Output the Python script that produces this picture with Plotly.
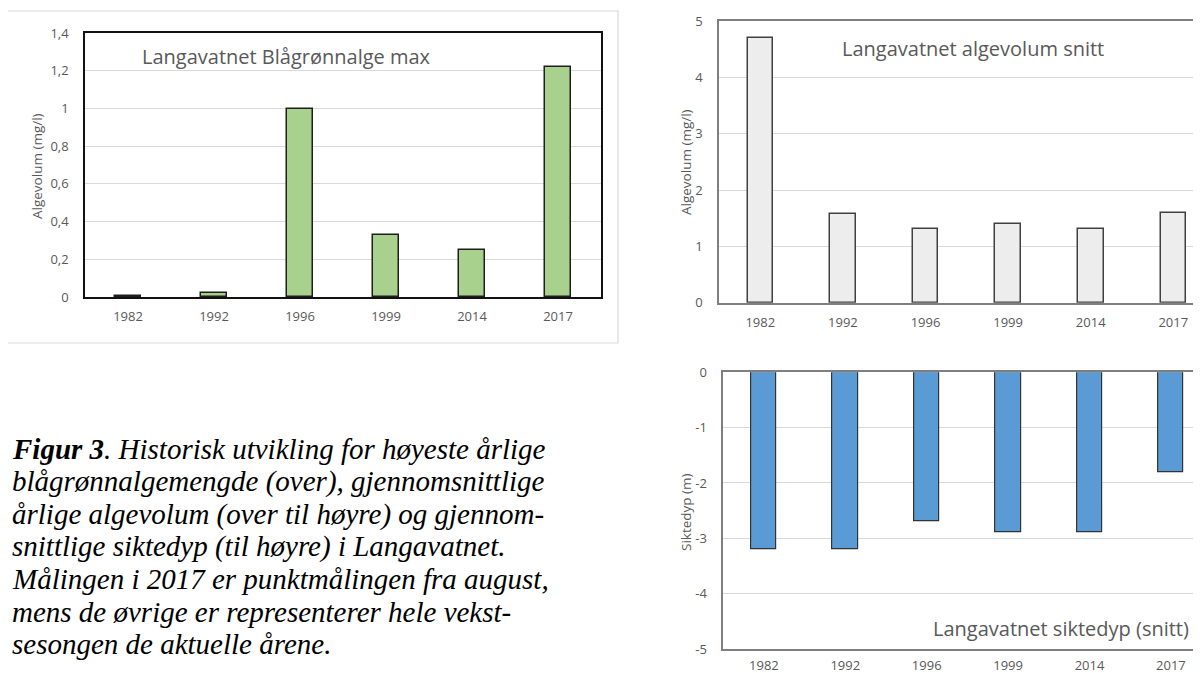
import plotly.graph_objects as go

# ---------------- data ----------------
years = ["1982", "1992", "1996", "1999", "2014", "2017"]
blagronn_max = [0.005, 0.02, 0.995, 0.33, 0.25, 1.22]
algevolum_snitt = [4.70, 1.57, 1.30, 1.40, 1.31, 1.59]
siktedyp_snitt = [-3.2, -3.2, -2.7, -2.9, -2.9, -1.8]

tl_ticks = [0, 0.2, 0.4, 0.6, 0.8, 1.0, 1.2, 1.4]
tr_ticks = [0, 1, 2, 3, 4, 5]
br_ticks = [0, -1, -2, -3, -4, -5]
br_ticktext = ["0", "-1", "-2", "-3", "-4", "-5"]

caption_lines = [
    "<b>Figur 3</b>. Historisk utvikling for høyeste årlige",
    "blågrønnalgemengde (over), gjennomsnittlige",
    "årlige algevolum (over til høyre) og gjennom-",
    "snittlige siktedyp (til høyre) i Langavatnet.",
    "Målingen i 2017 er punktmålingen fra august,",
    "mens de øvrige er representerer hele vekst-",
    "sesongen de aktuelle årene.",
]

# page body has an 8px margin: figure starts at (8, 8) of the window
OFF = 8
FW, FH = 1193, 673
def px(x):
    return (x - OFF) / FW
def py(y):
    return 1 - (y - OFF) / FH

TICK_FONT = dict(family="Open Sans", size=13, color="#595959")
GRID = "#D9D9D9"

fig = go.Figure()

fig.add_trace(go.Bar(x=years, y=blagronn_max, width=0.31,
                     marker=dict(color="#A9D18E", line=dict(color="#1E1E1E", width=1.5)),
                     xaxis="x", yaxis="y", showlegend=False))
fig.add_trace(go.Bar(x=years, y=algevolum_snitt, width=0.31,
                     marker=dict(color="#EDEDED", line=dict(color="#404040", width=1.5)),
                     xaxis="x2", yaxis="y2", showlegend=False))
fig.add_trace(go.Bar(x=years, y=siktedyp_snitt, width=0.31,
                     marker=dict(color="#5B9BD5", line=dict(color="#333333", width=1.2)),
                     xaxis="x3", yaxis="y3", showlegend=False))

# plot areas (window pixels): left, right, top, bottom
TL = (85, 601, 33, 297)
TR = (719, 1201, 21, 302.7)
BR = (723.2, 1201, 372.3, 649)

tr_right = -0.5 + (TR[1] - TR[0]) / 82.6
br_right = -0.5 + (BR[1] - BR[0]) / 81.4

common_x = dict(type="category", showgrid=False, zeroline=False, ticks="",
                tickfont=TICK_FONT, fixedrange=True)
common_y = dict(showgrid=True, gridcolor=GRID, gridwidth=1, zeroline=False, ticks="",
                tickfont=TICK_FONT, ticklabelstandoff=12, fixedrange=True)

fig.update_layout(
    width=FW, height=FH,
    margin=dict(l=0, r=0, t=0, b=0, autoexpand=False),
    paper_bgcolor="white", plot_bgcolor="white",
    separators=", ",
    bargap=0,
    xaxis=dict(**common_x, domain=[px(TL[0]), px(TL[1])], anchor="y", ticklabelstandoff=7,
               range=[-0.5, 5.5], showline=True, linecolor="#111111", linewidth=1.5, mirror=True),
    yaxis=dict(**common_y, domain=[py(TL[3]), py(TL[2])], anchor="x",
               range=[0, 1.4], tickvals=tl_ticks,
               showline=True, linecolor="#111111", linewidth=1.5, mirror=True),
    xaxis2=dict(**common_x, domain=[px(TR[0]), px(TR[1])], anchor="y2", ticklabelstandoff=7,
                range=[-0.5, tr_right], showline=True, linecolor="#7F7F7F", linewidth=1.5, mirror=True),
    yaxis2=dict(**common_y, domain=[py(TR[3]), py(TR[2])], anchor="x2",
                range=[0, 5], tickvals=tr_ticks,
                showline=True, linecolor="#7F7F7F", linewidth=1.5, mirror=False),
    xaxis3=dict(**common_x, domain=[px(BR[0]), px(BR[1])], anchor="y3", ticklabelstandoff=4,
                range=[-0.5, br_right], showline=True, linecolor="#7F7F7F", linewidth=1.5, mirror=True),
    yaxis3=dict(**common_y, domain=[py(BR[3]), py(BR[2])], anchor="x3",
                range=[-5, 0], tickvals=br_ticks, ticktext=br_ticktext,
                showline=True, linecolor="#7F7F7F", linewidth=1.5, mirror=False),
)

# outer frame of the top-left chart
fig.add_shape(type="rect", xref="paper", yref="paper",
              x0=px(7), x1=px(618), y0=py(343), y1=py(11),
              line=dict(color="#D9D9D9", width=1.2), fillcolor="rgba(0,0,0,0)", layer="below")

ann = []
TITLE_FONT = dict(family="Open Sans", size=20, color="#595959")
ann.append(dict(text="Langavatnet Blågrønnalge max", x=px(140), y=py(57), xanchor="left",
                yanchor="middle", font=TITLE_FONT))
ann.append(dict(text="Langavatnet algevolum snitt", x=px(840), y=py(48), xanchor="left",
                yanchor="middle", font=TITLE_FONT))
ann.append(dict(text="Langavatnet siktedyp (snitt)", x=px(931), y=py(628), xanchor="left",
                yanchor="middle", font=TITLE_FONT))

YT_FONT = dict(family="Open Sans", size=13.5, color="#595959")
ann.append(dict(text="Algevolum (mg/l)", x=px(37), y=py(166), textangle=-90,
                xanchor="center", yanchor="middle", font=YT_FONT))
ann.append(dict(text="Algevolum (mg/l)", x=px(686), y=py(162), textangle=-90,
                xanchor="center", yanchor="middle", font=YT_FONT))
ann.append(dict(text="Siktedyp (m)", x=px(686), y=py(512), textangle=-90,
                xanchor="center", yanchor="middle", font=YT_FONT))

CAP_FONT = dict(family="Liberation Serif", size=29, color="#000000")
for i, line in enumerate(caption_lines):
    ann.append(dict(text="<i>" + line + "</i>", x=px(10), y=py(449 + i * 32.5),
                    xanchor="left", yanchor="middle", font=CAP_FONT))

for a in ann:
    a.update(xref="paper", yref="paper", showarrow=False)
fig.update_layout(annotations=ann)

fig.write_html("out.html")
